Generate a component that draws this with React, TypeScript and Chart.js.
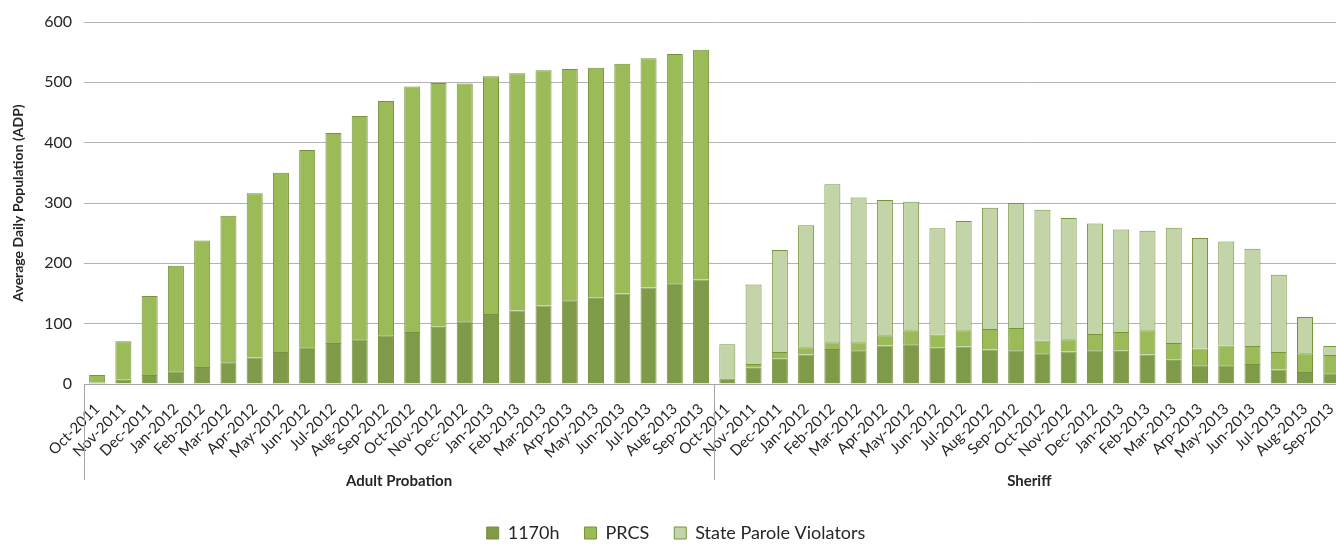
import React, { useEffect, useRef } from "react";
import { Chart, registerables } from "chart.js";

Chart.register(...registerables);

const months = [
  "Oct-2011", "Nov-2011", "Dec-2011", "Jan-2012", "Feb-2012", "Mar-2012",
  "Apr-2012", "May-2012", "Jun-2012", "Jul-2012", "Aug-2012", "Sep-2012",
  "Oct-2012", "Nov-2012", "Dec-2012", "Jan-2013", "Feb-2013", "Mar-2013",
  "Arp-2013", "May-2013", "Jun-2013", "Jul-2013", "Aug-2013", "Sep-2013",
];
const groups = ["Adult Probation", "Sheriff"];

const probation1170h = [2, 7, 15, 21, 28, 36, 44, 53, 61, 68, 74, 81, 86, 95, 104, 116, 122, 130, 139, 143, 150, 160, 167, 173];
const probationPRCS = [13, 64, 131, 175, 210, 243, 272, 297, 327, 348, 370, 388, 407, 404, 394, 394, 393, 390, 383, 381, 381, 380, 380, 381];
const probationSPV: (number | null)[] = months.map(() => null);

const sheriff1170h = [9, 27, 42, 49, 58, 56, 64, 66, 60, 62, 57, 56, 51, 54, 56, 55, 49, 40, 31, 31, 33, 24, 20, 18];
const sheriffPRCS = [1, 6, 11, 12, 11, 13, 17, 23, 22, 27, 34, 37, 21, 20, 27, 31, 40, 28, 28, 33, 30, 29, 31, 30];
const sheriffSPV = [56, 132, 169, 202, 262, 240, 224, 213, 176, 181, 201, 207, 217, 201, 183, 170, 165, 191, 183, 172, 161, 128, 60, 15];

const yTicks = [0, 100, 200, 300, 400, 500, 600];

const FONT = "Lato, 'Open Sans', sans-serif";
const TEXT = "#262626";

const groupPlugin = {
  id: "groupLabels",
  afterDraw(chart: any) {
    const x = chart.scales.x;
    const area = chart.chartArea;
    const ctx = chart.ctx;
    const per = months.length;
    const step = x.getPixelForValue(1) - x.getPixelForValue(0);
    ctx.save();
    ctx.strokeStyle = "#A6A6A6";
    ctx.lineWidth = 1;
    for (let g = 0; g < groups.length; g++) {
      const start = g * per;
      const px = Math.round(x.getPixelForValue(start) - step / 2) + 0.5;
      ctx.beginPath();
      ctx.moveTo(px, area.bottom);
      ctx.lineTo(px, area.bottom + 96);
      ctx.stroke();
      const cx = (x.getPixelForValue(start) + x.getPixelForValue(start + per - 1)) / 2;
      ctx.fillStyle = TEXT;
      ctx.font = `bold 15px ${FONT}`;
      ctx.textAlign = "center";
      ctx.textBaseline = "middle";
      ctx.fillText(groups[g], cx, area.bottom + 97);
    }
    ctx.restore();
  },
};

export default function App() {
  const ref = useRef<HTMLCanvasElement | null>(null);
  useEffect(() => {
    if (!ref.current) return;
    const labels = [...months, ...months];
    const chart = new Chart(ref.current, {
      type: "bar",
      data: {
        labels,
        datasets: [
          {
            label: "1170h",
            data: [...probation1170h, ...sheriff1170h],
            backgroundColor: "#7F9A48",
            borderColor: "#77933C",
            borderWidth: 1,
          },
          {
            label: "PRCS",
            data: [...probationPRCS, ...sheriffPRCS],
            backgroundColor: "#9BBB59",
            borderColor: "#77933C",
            borderWidth: 1,
          },
          {
            label: "State Parole Violators",
            data: [...probationSPV, ...sheriffSPV],
            backgroundColor: "#C3D5A8",
            borderColor: "#77933C",
            borderWidth: 1,
          },
        ],
      },
      options: {
        animation: false,
        responsive: true,
        maintainAspectRatio: false,
        layout: { autoPadding: false, padding: { top: 22, right: 0, left: 0, bottom: -8 } },
        datasets: { bar: { barPercentage: 0.61, categoryPercentage: 1 } },
        plugins: {
          legend: {
            position: "bottom",
            labels: {
              boxWidth: 12,
              boxHeight: 12,
              padding: 25,
              color: TEXT,
              font: { family: FONT, size: 18 },
            },
          },
          tooltip: { enabled: false },
        },
        scales: {
          x: {
            stacked: true,
            grid: { display: false },
            border: { display: true, color: "#A6A6A6" },
            ticks: {
              autoSkip: false,
              maxRotation: 45,
              minRotation: 45,
              color: TEXT,
              padding: 8,
              labelOffset: 0,
              font: { family: FONT, size: 15 },
            },
            afterFit(scale: any) {
              scale.height = 115;
            },
          },
          y: {
            stacked: true,
            min: 0,
            max: 600,
            afterBuildTicks(scale: any) {
              scale.ticks = yTicks.map((v) => ({ value: v }));
            },
            grid: { color: "#B3B3B3", drawTicks: false },
            border: { display: false },
            ticks: {
              color: TEXT,
              padding: 12,
              font: { family: FONT, size: 16 },
            },
            title: {
              display: true,
              text: "Average Daily Population (ADP)",
              color: TEXT,
              font: { family: FONT, size: 14, weight: "bold" },
              padding: { top: 10, bottom: 0 },
            },
            afterFit(scale: any) {
              scale.width = 84;
            },
          },
        },
      },
      plugins: [groupPlugin],
    });
    return () => chart.destroy();
  }, []);
  return (
    <div style={{ position: "fixed", left: 0, top: 0, width: 1336, height: 544, overflow: "hidden", background: "#fff" }}>
      <div style={{ position: "relative", width: 1352, height: 544 }}>
        <canvas ref={ref} />
      </div>
    </div>
  );
}
